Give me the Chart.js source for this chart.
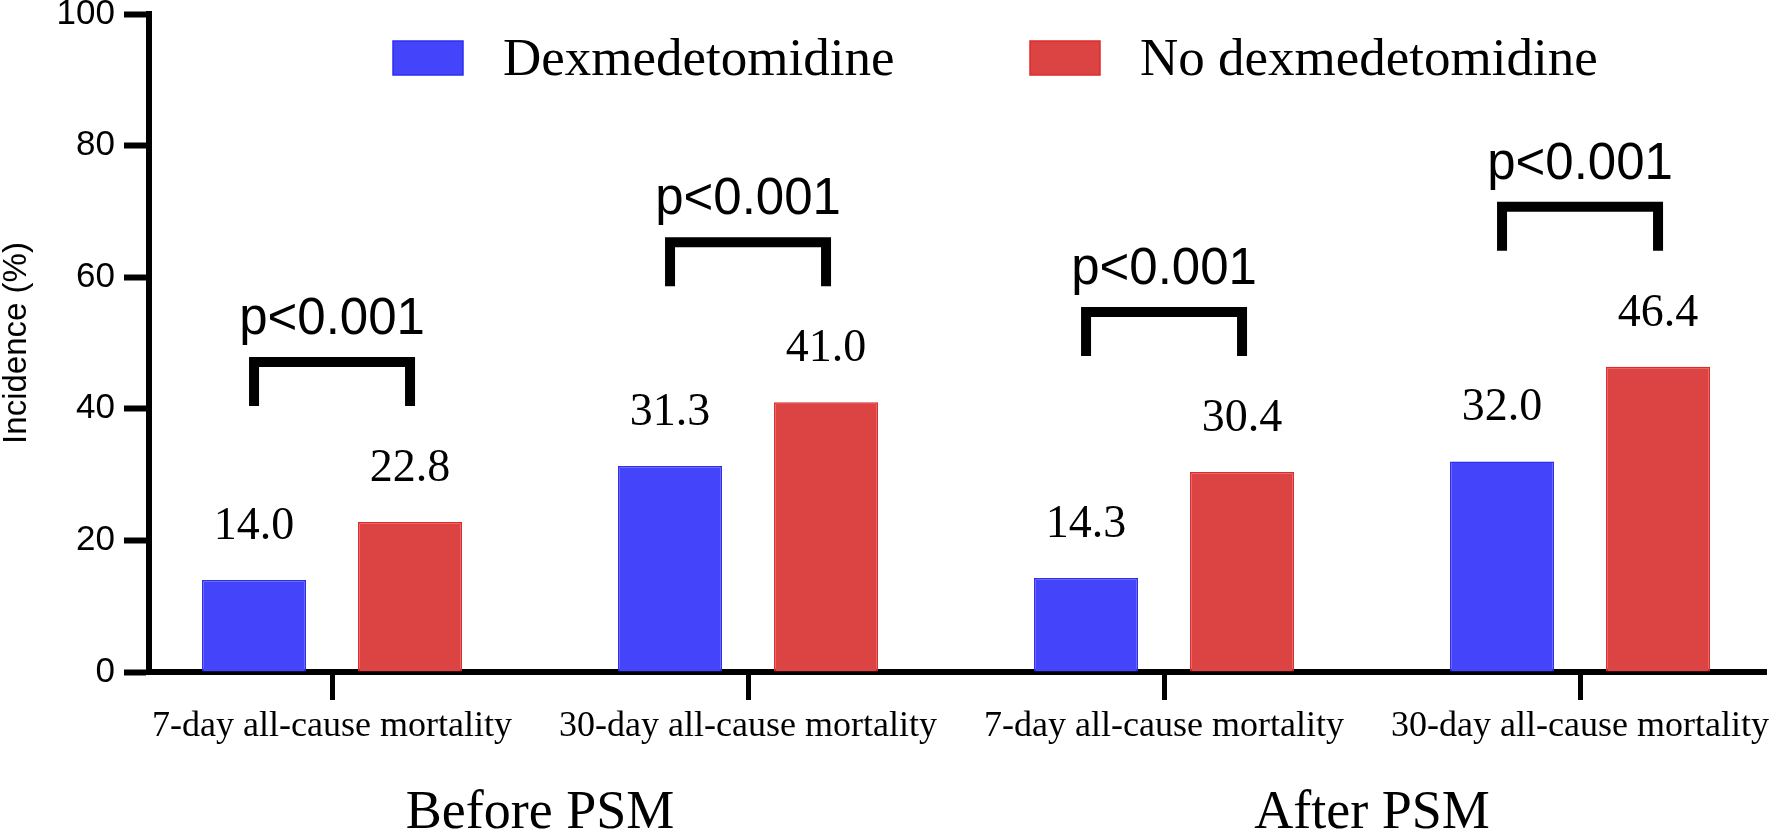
<!DOCTYPE html>
<html>
<head>
<meta charset="utf-8">
<script src="https://cdn.jsdelivr.net/npm/chart.js@4"></script>
<style>
  body { margin: 0; background: #fff; }
  canvas { display: block; }
</style>
</head>
<body>
<canvas id="chart" width="1772" height="832"></canvas>
<script>
// Data
const categories = [
  "7-day all-cause mortality",
  "30-day all-cause mortality",
  "7-day all-cause mortality",
  "30-day all-cause mortality",
];
const groups = ["Before PSM", "After PSM"];
const dexValues = [14.0, 31.3, 14.3, 32.0];
const noDexValues = [22.8, 41.0, 30.4, 46.4];
const pValues = ["p<0.001", "p<0.001", "p<0.001", "p<0.001"];
const yTicks = [0, 20, 40, 60, 80, 100];

const serif = "'Liberation Serif', 'Times New Roman', serif";
const sans = "'Liberation Sans', Arial, sans-serif";

// Value labels, p-value brackets, legend and group labels
const annotations = {
  id: "annotations",
  afterDatasetsDraw(chart) {
    const ctx = chart.ctx;
    const x = chart.scales.x;
    const blue = chart.getDatasetMeta(0).data;
    const red = chart.getDatasetMeta(1).data;
    ctx.save();
    ctx.fillStyle = "#000";

    // numbers above bars
    ctx.font = "46px " + serif;
    ctx.textAlign = "center";
    ctx.textBaseline = "alphabetic";
    chart.data.datasets.forEach(function(ds, d) {
      chart.getDatasetMeta(d).data.forEach(function(bar, i) {
        ctx.fillText(ds.data[i].toFixed(1), bar.x, bar.y - 41);
      });
    });

    // brackets
    ctx.strokeStyle = "#000";
    ctx.lineWidth = 10;
    ctx.lineJoin = "miter";
    ctx.lineCap = "butt";
    ctx.font = "51px " + sans;
    pValues.forEach(function(p, i) {
      const top = Math.min(blue[i].y, red[i].y);
      const hy = top - 160;
      ctx.beginPath();
      ctx.moveTo(blue[i].x, hy + 44);
      ctx.lineTo(blue[i].x, hy);
      ctx.lineTo(red[i].x, hy);
      ctx.lineTo(red[i].x, hy + 44);
      ctx.stroke();
      ctx.fillText(p, (blue[i].x + red[i].x) / 2, hy - 28);
    });

    // group labels under the axis
    ctx.font = "54px " + serif;
    groups.forEach(function(g, k) {
      const cx = (x.getPixelForValue(2 * k) + x.getPixelForValue(2 * k + 1)) / 2;
      ctx.fillText(g, cx, 828);
    });

    // legend
    ctx.textAlign = "left";
    ctx.font = "53px " + serif;
    const legendX = [393, 1030];
    chart.data.datasets.forEach(function(ds, d) {
      ctx.fillStyle = ds.backgroundColor;
      ctx.fillRect(legendX[d], 41, 70, 34);
      ctx.lineWidth = 1.5;
      ctx.strokeStyle = ds.borderColor;
      ctx.strokeRect(legendX[d], 41, 70, 34);
      ctx.fillStyle = "#000";
      ctx.fillText(ds.label, legendX[d] + 110, 75);
    });
    ctx.restore();
  },
};

new Chart(document.getElementById("chart"), {
  type: "bar",
  data: {
    labels: categories.map(function(c, i) { return i; }),
    datasets: [
      {
        label: "Dexmedetomidine",
        data: dexValues,
        backgroundColor: "#4444FA",
        borderColor: "#2E2EF2",
        borderWidth: 1.5,
        clip: false,
      },
      {
        label: "No dexmedetomidine",
        data: noDexValues,
        backgroundColor: "#DC4444",
        borderColor: "#E02A2A",
        borderWidth: 1.5,
        clip: false,
      },
    ],
  },
  options: {
    responsive: false,
    devicePixelRatio: 1,
    animation: false,
    categoryPercentage: 0.75,
    barPercentage: 0.667,
    layout: { padding: { top: 14, right: 6, left: 0, bottom: 0 } },
    plugins: {
      legend: { display: false },
      tooltip: { enabled: false },
    },
    scales: {
      x: {
        type: "linear",
        min: -0.44,
        max: 3.447,
        offset: false,
        afterBuildTicks: function(s) {
          s.ticks = categories.map(function(c, i) { return { value: i }; });
        },
        afterFit: function(s) {
          s.height = 160;
          s.paddingLeft = 0;
          s.paddingRight = 0;
        },
        grid: {
          offset: false,
          drawOnChartArea: false,
          drawTicks: true,
          tickLength: 28,
          tickWidth: 5,
          tickColor: "#000",
        },
        border: { display: true, width: 6, color: "#000" },
        ticks: {
          autoSkip: false,
          maxRotation: 0,
          padding: 5,
          color: "#000",
          font: { family: serif, size: 36 },
          callback: function(v) { return categories[v]; },
        },
      },
      y: {
        min: 0,
        max: 100,
        afterBuildTicks: function(s) {
          s.ticks = yTicks.map(function(v) { return { value: v }; });
        },
        afterFit: function(s) {
          s.width = 149;
          s.paddingTop = 0;
          s.paddingBottom = 0;
        },
        grid: {
          drawOnChartArea: false,
          drawTicks: true,
          tickLength: 25,
          tickWidth: 6,
          tickColor: "#000",
        },
        border: { display: true, width: 6, color: "#000" },
        ticks: {
          padding: 9,
          color: "#000",
          font: { family: sans, size: 35 },
        },
        title: {
          display: true,
          text: "Incidence (%)",
          color: "#000",
          padding: { top: 0, bottom: 0 },
          font: { family: sans, size: 33, lineHeight: 1 },
        },
      },
    },
  },
  plugins: [annotations],
});
</script>
</body>
</html>
